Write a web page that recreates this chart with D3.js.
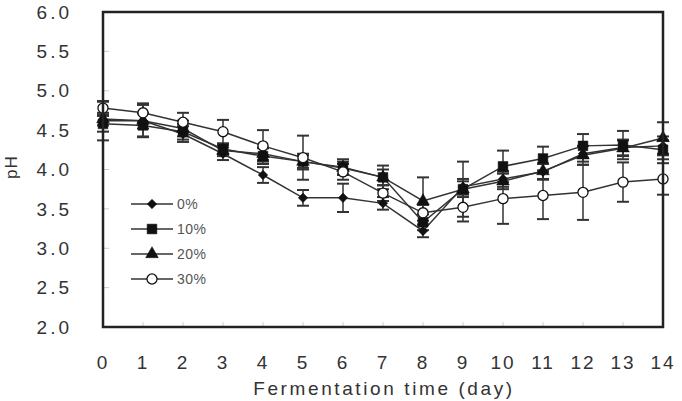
<!DOCTYPE html>
<html>
<head>
<meta charset="utf-8">
<script src="https://cdn.jsdelivr.net/npm/d3@7"></script>
<style>
  body { margin: 0; background: #fff; }
  text { font-family: "Liberation Sans", Arial, sans-serif; fill: #333; }
</style>
</head>
<body>
<div id="chart"></div>
<script>
// days and tick labels
var days = [0, 1, 2, 3, 4, 5, 6, 7, 8, 9, 10, 11, 12, 13, 14];
var yTicks = [2.0, 2.5, 3.0, 3.5, 4.0, 4.5, 5.0, 5.5, 6.0];
var seriesNames = ["0%", "10%", "20%", "30%"];
var seriesSymbols = ["diamond", "square", "triangle", "circle"];

// pH means
var ph0  = [4.62, 4.62, 4.45, 4.20, 3.93, 3.64, 3.64, 3.57, 3.22, 3.78, 3.88, 3.97, 4.20, 4.28, 4.30];
var ph10 = [4.58, 4.56, 4.48, 4.26, 4.17, 4.10, 4.03, 3.90, 3.33, 3.75, 4.04, 4.14, 4.30, 4.31, 4.25];
var ph20 = [4.64, 4.62, 4.52, 4.24, 4.20, 4.10, 4.02, 3.90, 3.60, 3.75, 3.85, 3.98, 4.18, 4.27, 4.40];
var ph30 = [4.78, 4.72, 4.60, 4.48, 4.30, 4.15, 3.97, 3.70, 3.45, 3.52, 3.63, 3.67, 3.71, 3.84, 3.88];

// standard deviations (error bars)
var sd0  = [0.25, 0.20, 0.10, 0.08, 0.10, 0.10, 0.18, 0.08, 0.08, 0.10, 0.10, 0.10, 0.10, 0.10, 0.12];
var sd10 = [0.10, 0.15, 0.10, 0.07, 0.10, 0.10, 0.10, 0.10, 0.10, 0.10, 0.20, 0.15, 0.15, 0.18, 0.12];
var sd20 = [0.08, 0.10, 0.10, 0.07, 0.08, 0.08, 0.08, 0.15, 0.30, 0.35, 0.10, 0.10, 0.12, 0.10, 0.20];
var sd30 = [0.08, 0.12, 0.12, 0.15, 0.20, 0.28, 0.10, 0.10, 0.10, 0.18, 0.32, 0.30, 0.35, 0.25, 0.20];

var means = [ph0, ph10, ph20, ph30];
var sds = [sd0, sd10, sd20, sd30];

var margin = {top: 12, right: 19, bottom: 74, left: 103},
    width = 682 - margin.left - margin.right,
    height = 401 - margin.top - margin.bottom;

var svg = d3.select("#chart")
  .append("svg")
  .attr("width", 682)
  .attr("height", 401)
.append("g")
  .attr("transform", "translate(" + margin.left + "," + margin.top + ")");

var x = d3.scaleLinear().domain([0, 14]).range([0, width]);
var y = d3.scaleLinear().domain([2, 6]).range([height, 0]);

// small inner tick marks
svg.selectAll(".ytick")
  .data(yTicks)
  .enter()
  .append("line")
    .attr("x1", 0).attr("x2", 6)
    .attr("y1", function(d) { return y(d); })
    .attr("y2", function(d) { return y(d); })
    .attr("stroke", "#ccc");

svg.selectAll(".xtick")
  .data(days)
  .enter()
  .append("line")
    .attr("x1", function(d) { return x(d); })
    .attr("x2", function(d) { return x(d); })
    .attr("y1", height).attr("y2", height - 5)
    .attr("stroke", "#ccc");

// y labels
svg.selectAll(".ylab")
  .data(yTicks)
  .enter()
  .append("text")
    .attr("x", -31)
    .attr("y", function(d) { return y(d); })
    .attr("dy", "0.35em")
    .attr("text-anchor", "end")
    .style("font-size", "19px")
    .style("letter-spacing", "3px")
    .text(function(d) { return d3.format(".1f")(d); });

// x labels
svg.selectAll(".xlab")
  .data(days)
  .enter()
  .append("text")
    .attr("x", function(d) { return x(d); })
    .attr("y", height + 42)
    .attr("text-anchor", "middle")
    .style("font-size", "19px")
    .style("letter-spacing", "2px")
    .text(function(d) { return d; });

svg.append("text")
  .attr("x", width / 2 + 1)
  .attr("y", height + 68)
  .attr("text-anchor", "middle")
  .style("font-size", "19px")
  .style("letter-spacing", "2.6px")
  .text("Fermentation time (day)");

svg.append("text")
  .attr("transform", "translate(" + (-86) + "," + (y(4.03)) + ")rotate(-90)")
  .attr("text-anchor", "middle")
  .style("font-size", "17px")
  .style("letter-spacing", "1px")
  .text("pH");

function symbolFor(name, size) {
  var t = {diamond: d3.symbolSquare, square: d3.symbolSquare, triangle: d3.symbolTriangle, circle: d3.symbolCircle}[name];
  return d3.symbol().type(t).size(size)();
}
var symSize = {diamond: 45, square: 95, triangle: 70, circle: 80};
function symTransform(name, px, py) {
  return "translate(" + px + "," + py + ")" + (name == "diamond" ? "rotate(45)" : "");
}

// error bars
means.forEach(function(m, s) {
  var g = svg.append("g");
  var data = days.map(function(d, i) { return {d: d, v: m[i], e: sds[s][i]}; });
  g.selectAll("line.v")
    .data(data).enter().append("line")
      .attr("x1", function(p) { return x(p.d); })
      .attr("x2", function(p) { return x(p.d); })
      .attr("y1", function(p) { return y(p.v - p.e); })
      .attr("y2", function(p) { return y(p.v + p.e); })
      .attr("stroke", "#333").attr("stroke-width", 1.5);
  [-1, 1].forEach(function(sign) {
    g.selectAll("line.c" + sign)
      .data(data).enter().append("line")
        .attr("x1", function(p) { return x(p.d) - 6; })
        .attr("x2", function(p) { return x(p.d) + 6; })
        .attr("y1", function(p) { return y(p.v + sign * p.e); })
        .attr("y2", function(p) { return y(p.v + sign * p.e); })
        .attr("stroke", "#333").attr("stroke-width", 2);
  });
});

// lines
var line = d3.line()
  .x(function(p, i) { return x(days[i]); })
  .y(function(p) { return y(p); });

means.forEach(function(m) {
  svg.append("path")
    .datum(m)
    .attr("fill", "none")
    .attr("stroke", "#333")
    .attr("stroke-width", 1.5)
    .attr("d", line);
});

// markers
means.forEach(function(m, s) {
  var sym = seriesSymbols[s];
  svg.selectAll(".m" + s)
    .data(m)
    .enter()
    .append("path")
      .attr("transform", function(p, i) { return symTransform(sym, x(days[i]), y(p)); })
      .attr("d", symbolFor(sym, symSize[sym]))
      .attr("fill", sym == "circle" ? "#fff" : "#111")
      .attr("stroke", "#111")
      .attr("stroke-width", sym == "circle" ? 1.3 : 0.5);
});

// frame
svg.append("rect")
  .attr("x", 0).attr("y", 0)
  .attr("width", width).attr("height", height)
  .attr("fill", "none")
  .attr("stroke", "#222")
  .attr("stroke-width", 2.5);

// legend
var lg = svg.append("g").attr("transform", "translate(" + (131 - margin.left) + "," + (204 - margin.top) + ")");
seriesNames.forEach(function(name, i) {
  var row = lg.append("g").attr("transform", "translate(0," + (i * 25) + ")");
  row.append("line").attr("x1", 0).attr("x2", 42).attr("y1", 0).attr("y2", 0)
    .attr("stroke", "#333").attr("stroke-width", 1.5);
  var sym = seriesSymbols[i];
  row.append("path")
    .attr("transform", symTransform(sym, 21, 0))
    .attr("d", symbolFor(sym, symSize[sym]))
    .attr("fill", sym == "circle" ? "#fff" : "#111")
    .attr("stroke", "#111")
    .attr("stroke-width", sym == "circle" ? 1.3 : 0.5);
  row.append("text")
    .attr("x", 46)
    .attr("y", 0)
    .attr("dy", "0.35em")
    .style("font-size", "14px")
    .style("fill", "#555")
    .style("letter-spacing", "0.5px")
    .text(name);
});
</script>
</body>
</html>
